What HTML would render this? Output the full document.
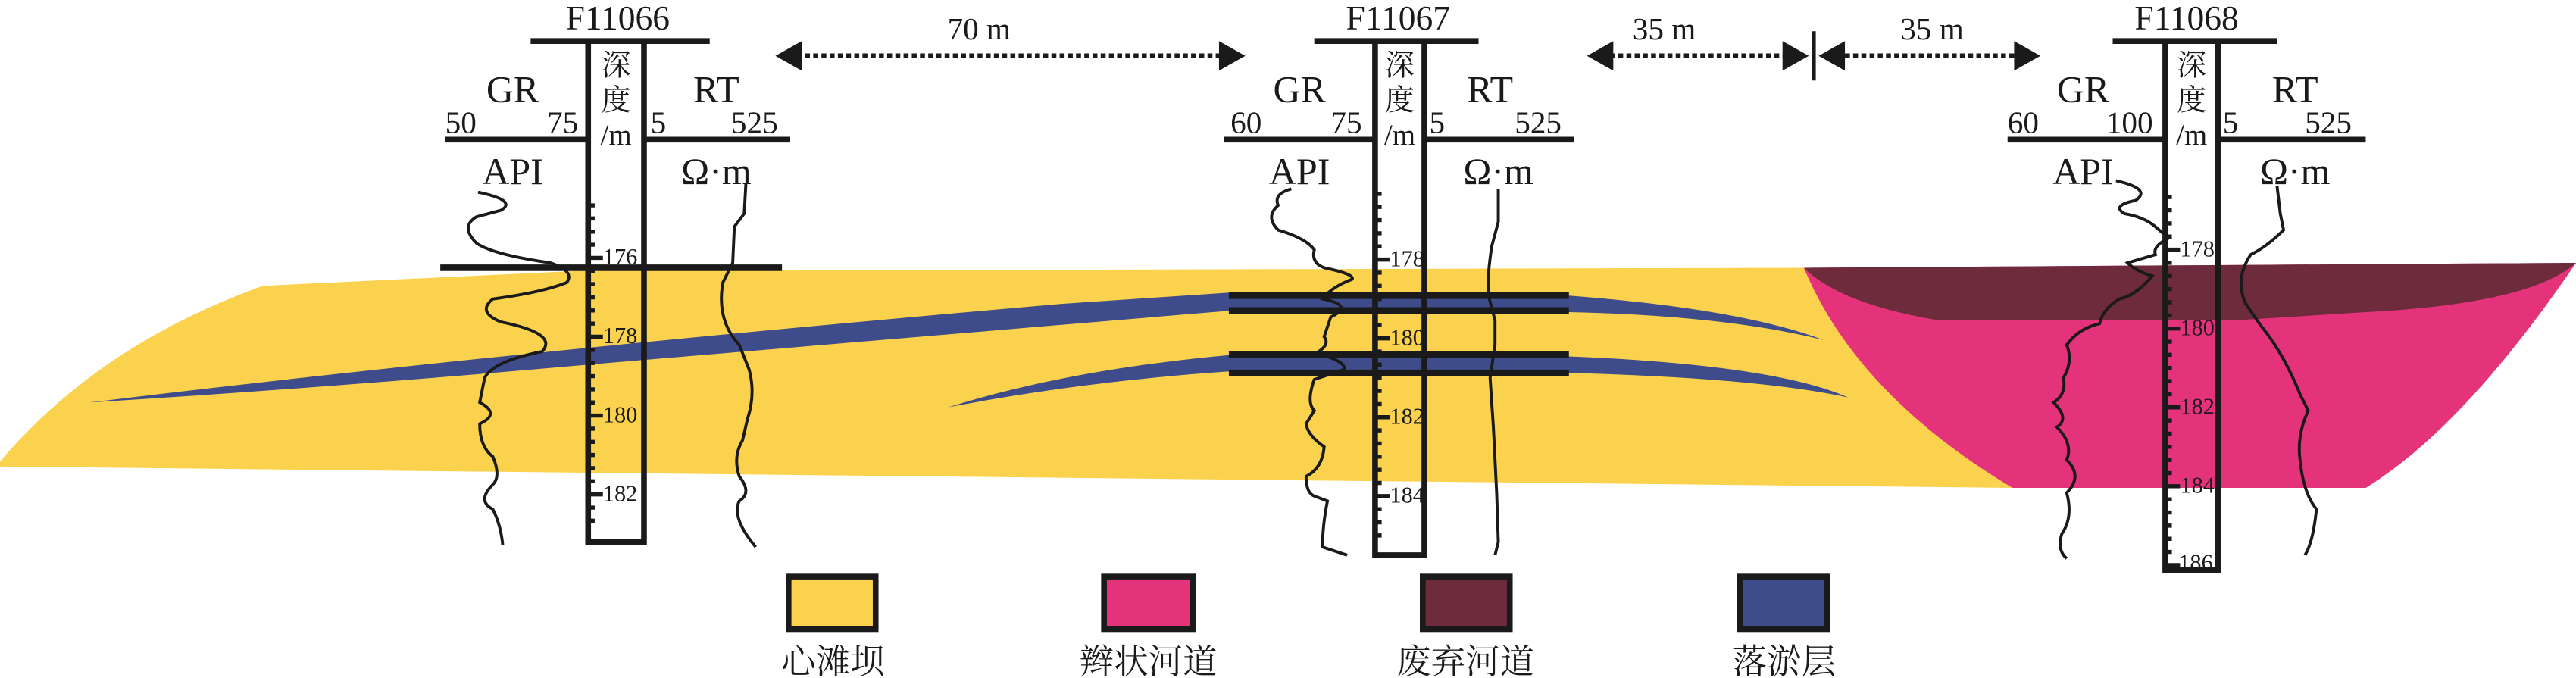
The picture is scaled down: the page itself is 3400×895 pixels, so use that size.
<!DOCTYPE html>
<html><head><meta charset="utf-8"><style>html,body{margin:0;padding:0;background:#fff}svg{display:block}</style></head>
<body>
<svg width="3400" height="895" viewBox="0 0 1568 412.75" preserveAspectRatio="none" xmlns="http://www.w3.org/2000/svg" font-family="'Liberation Serif','Noto Serif CJK SC',serif">
<!-- yellow bar -->
<path d="M160,174 L350,165 L1100,163 Q1130,240 1225,297 L0,284 L0,281 Q60,210 160,174 Z" fill="#FBD24E"/>
<!-- blue lenses -->
<path d="M55,245 Q300,215 646,185 L750,178 L955,180 Q1060,188 1110,207 Q1050,192 955,190 L750,189 L358,222 Q200,236 55,245 Z" fill="#3E4C8B"/>
<path d="M577,248 Q650,225 750,216 L955,217 Q1080,222 1125,242 Q1070,230 955,227 L750,226 Q660,232 577,248 Z" fill="#3E4C8B"/>
<!-- pink & maroon -->
<path d="M1098,163 L1568,160 Q1500,260 1440,297 L1225,297 Q1130,240 1098,163 Z" fill="#E5337B"/>
<path d="M1098,163 L1568,160 Q1540,185 1440,190 L1360,195 L1180,195 Q1120,185 1098,163 Z" fill="#6D2B3C"/>
<!-- datum lines -->
<g stroke="#1a1a1a" stroke-width="4">
<line x1="748" y1="180" x2="955" y2="180"/><line x1="748" y1="189" x2="955" y2="189"/>
<line x1="748" y1="216" x2="955" y2="216"/><line x1="748" y1="227" x2="955" y2="227"/>
<line x1="268" y1="163" x2="476" y2="163"/>
</g>
<!-- columns -->
<g stroke="#1a1a1a" fill="none" stroke-width="3.5">
<line x1="323" y1="25" x2="432" y2="25"/>
<path d="M358,25 V330 H392 V25"/>
<line x1="271" y1="85" x2="358" y2="85"/><line x1="392" y1="85" x2="481" y2="85"/>
<line x1="800" y1="25" x2="900" y2="25"/>
<path d="M837,25 V338 H867 V25"/>
<line x1="745" y1="85" x2="837" y2="85"/><line x1="867" y1="85" x2="958" y2="85"/>
<line x1="1286" y1="25" x2="1386" y2="25"/>
<path d="M1318,25 V347 H1350 V25"/>
<line x1="1222" y1="85" x2="1318" y2="85"/><line x1="1350" y1="85" x2="1440" y2="85"/>
</g>
<!-- ticks -->
<g stroke="#1a1a1a" stroke-width="2.5">
<path d="M358,125h4M358,133h4M358,141h4M358,149h4M358,157h9M358,165h4M358,173h4M358,181h4M358,189h4M358,197h4M358,205h9M358,213h4M358,221h4M358,229h4M358,237h4M358,245h4M358,253h9M358,261h4M358,269h4M358,277h4M358,285h4M358,293h4M358,301h9M358,309h4M358,317h4"/>
<path d="M837,118h4M837,126h4M837,134h4M837,142h4M837,150h4M837,158h9M837,166h4M837,174h4M837,182h4M837,190h4M837,198h4M837,206h9M837,214h4M837,222h4M837,230h4M837,238h4M837,246h4M837,254h9M837,262h4M837,270h4M837,278h4M837,286h4M837,294h4M837,302h9M837,310h4M837,318h4M837,326h4"/>
<path d="M1318,120h4M1318,128h4M1318,136h4M1318,144h4M1318,152h9M1318,160h4M1318,168h4M1318,176h4M1318,184h4M1318,192h4M1318,200h9M1318,208h4M1318,216h4M1318,224h4M1318,232h4M1318,240h4M1318,248h9M1318,256h4M1318,264h4M1318,272h4M1318,280h4M1318,288h4M1318,296h9M1318,304h4M1318,312h4M1318,320h4M1318,328h4M1318,336h4M1318,344h9"/>
</g>
<!-- log curves -->
<g stroke="#1a1a1a" fill="none" stroke-width="1.8">
<path d="M291,117 Q315,122 305,128 L290,132 Q280,138 290,148 Q300,155 335,160 Q350,165 345,172 Q330,178 300,182 Q290,190 305,196 Q340,203 330,214 Q300,220 295,230 L292,245 Q305,252 292,258 Q292,272 300,278 Q305,290 300,295 Q290,305 300,310 Q305,320 306,332"/>
<path d="M454,112 L453,130 L447,138 L446,160 L440,172 Q436,195 450,210 L456,225 Q460,240 455,255 L452,268 Q446,278 450,290 Q458,300 450,305 Q445,315 460,333"/>
<path d="M786,115 Q775,118 778,125 Q770,132 778,140 Q795,145 800,152 Q798,160 806,163 Q825,167 823,170 Q810,175 805,182 Q825,186 810,193 L806,205 Q810,210 801,215 Q820,220 818,225 L800,231 Q795,245 800,250 L795,258 Q796,265 806,272 Q805,285 795,290 Q795,300 800,302 L808,305 Q805,320 805,333 L820,338"/>
<path d="M912,115 V135 L908,150 Q905,170 906,180 L910,195 L910,210 L907,230 L909,260 L911,300 L912,330 L910,338"/>
<path d="M1288,110 Q1310,115 1300,122 Q1285,125 1293,130 Q1305,132 1312,138 L1320,145 Q1310,150 1312,155 L1295,160 Q1300,165 1310,168 Q1300,180 1290,182 Q1280,188 1278,197 Q1265,200 1258,210 Q1262,220 1256,230 Q1258,240 1250,245 Q1260,255 1252,260 Q1262,270 1258,280 Q1268,290 1258,300 Q1262,315 1255,325 Q1252,335 1258,340"/>
<path d="M1386,113 L1388,130 L1390,140 Q1380,150 1370,155 Q1360,170 1367,185 L1376,198 Q1390,215 1400,240 L1405,250 Q1398,265 1400,280 Q1402,300 1410,310 Q1408,330 1403,338"/>
</g>
<!-- texts -->
<g fill="#1a1a1a" font-size="21" text-anchor="middle">
<text x="376" y="18">F11066</text><text x="851" y="18">F11067</text><text x="1331" y="18">F11068</text>
</g>
<g fill="#1a1a1a" font-size="23" text-anchor="middle">
<text x="312" y="62">GR</text><text x="436" y="62">RT</text>
<text x="791" y="62">GR</text><text x="907" y="62">RT</text>
<text x="1268" y="62">GR</text><text x="1397" y="62">RT</text>
<text x="312" y="112">API</text><text x="436" y="112">Ω·m</text>
<text x="791" y="112">API</text><text x="912" y="112">Ω·m</text>
<text x="1268" y="112">API</text><text x="1397" y="112">Ω·m</text>
</g>
<g fill="#1a1a1a" font-size="19">
<text x="271" y="81">50</text><text x="333" y="81">75</text><text x="396" y="81">5</text><text x="445" y="81">525</text>
<text x="749" y="81">60</text><text x="810" y="81">75</text><text x="870" y="81">5</text><text x="922" y="81">525</text>
<text x="1222" y="81">60</text><text x="1282" y="81">100</text><text x="1353" y="81">5</text><text x="1403" y="81">525</text>
</g>
<g fill="#1a1a1a" font-size="18" text-anchor="middle">
<text x="375" y="46">深</text><text x="375" y="67">度</text><text x="375" y="88">/m</text>
<text x="852" y="46">深</text><text x="852" y="67">度</text><text x="852" y="88">/m</text>
<text x="1334" y="46">深</text><text x="1334" y="67">度</text><text x="1334" y="88">/m</text>
</g>
<g fill="#1a1a1a" font-size="14">
<text x="367" y="161">176</text><text x="367" y="209">178</text><text x="367" y="257">180</text><text x="367" y="305">182</text>
<text x="846" y="162">178</text><text x="846" y="210">180</text><text x="846" y="258">182</text><text x="846" y="306">184</text>
<text x="1327" y="156">178</text><text x="1327" y="204">180</text><text x="1327" y="252">182</text><text x="1327" y="300">184</text><text x="1326" y="347">186</text>
</g>
<!-- distance arrows -->
<g stroke="#1a1a1a" stroke-width="3" stroke-dasharray="3,2">
<line x1="485" y1="34" x2="745" y2="34"/><line x1="980" y1="34" x2="1092" y2="34"/><line x1="1118" y1="34" x2="1228" y2="34"/>
</g>
<g fill="#1a1a1a">
<path d="M472,34 L488,25 L488,43 Z"/><path d="M758,34 L742,25 L742,43 Z"/>
<path d="M966,34 L982,25 L982,43 Z"/><path d="M1101,34 L1085,25 L1085,43 Z"/>
<path d="M1107,34 L1123,25 L1123,43 Z"/><path d="M1242,34 L1226,25 L1226,43 Z"/>
</g>
<line x1="1104" y1="19" x2="1104" y2="49" stroke="#1a1a1a" stroke-width="2.5"/>
<g fill="#1a1a1a" font-size="19" text-anchor="middle">
<text x="596" y="24">70 m</text><text x="1013" y="24">35 m</text><text x="1176" y="24">35 m</text>
</g>
<!-- legend -->
<g stroke="#1a1a1a" stroke-width="3.5">
<rect x="480" y="351" width="53" height="32" fill="#FBD24E"/>
<rect x="672" y="351" width="54" height="32" fill="#E5337B"/>
<rect x="866" y="351" width="53" height="32" fill="#6D2B3C"/>
<rect x="1059" y="351" width="53" height="32" fill="#3E4C8B"/>
</g>
<g fill="#1a1a1a" font-size="21" text-anchor="middle">
<text x="507" y="410">心滩坝</text><text x="699" y="410">辫状河道</text><text x="892" y="410">废弃河道</text><text x="1086" y="410">落淤层</text>
</g>
</svg>
</body></html>
